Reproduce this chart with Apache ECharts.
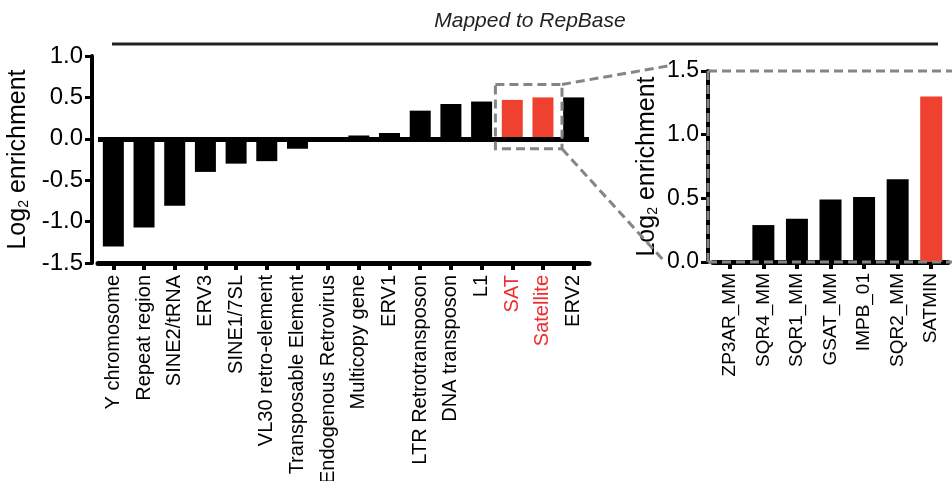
<!DOCTYPE html>
<html><head><meta charset="utf-8">
<script src="https://cdn.jsdelivr.net/npm/echarts@6/dist/echarts.min.js"></script>
<style>html,body{margin:0;padding:0;background:#fff}#c{width:952px;height:481px}</style>
</head><body><div id="c"></div>
<script>
// ---- data ----
const leftCategories = ['Y chromosome','Repeat region','SINE2/tRNA','ERV3','SINE1/7SL','VL30 retro-element','Transposable Element','Endogenous Retrovirus','Multicopy gene','ERV1','LTR Retrotransposon','DNA transposon','L1','SAT','Satellite','ERV2'];
const leftValues = [-1.30,-1.07,-0.81,-0.40,-0.30,-0.27,-0.12,0.0,0.04,0.07,0.34,0.42,0.45,0.47,0.50,0.50];
const leftHighlight = ['SAT','Satellite'];
const rightCategories = ['ZP3AR_MM','SQR4_MM','SQR1_MM','GSAT_MM','IMPB_01','SQR2_MM','SATMIN'];
const rightValues = [0.0,0.29,0.34,0.49,0.51,0.65,1.30];
const rightHighlight = ['SATMIN'];
const leftYRange = {min:-1.5, max:1.0, interval:0.5};
const rightYRange = {min:0, max:1.5, interval:0.5};
const titleText = 'Mapped to RepBase';

// ---- layout / style ----
const FONT = '"Liberation Sans", Arial, Helvetica, sans-serif';
const RED_BAR = '#ef4130', RED_TXT = '#ef2b2d', DASH = '#858585';
const GL = {left:98, top:56, width:491, height:207};
const GR = {left:713, top:71, width:235, height:191};
const YOFF_L = 6, YOFF_R = 5;

function bars(cats, vals, hl){
  return vals.map((v,i)=>({value:v, itemStyle:{color: hl.includes(cats[i]) ? RED_BAR : '#000'}}));
}
const yName = 'Log{s|2} enrichment';
function yAxisCfg(grid, range, off, fs, gap){
  return {
    type:'value', gridIndex:grid, min:range.min, max:range.max, interval:range.interval, offset:off,
    splitLine:{show:false},
    axisLine:{show:true, lineStyle:{color:'#000', width:4}},
    axisTick:{show:true, length:7, lineStyle:{color:'#000', width:3}},
    axisLabel:{fontSize:fs, color:'#000', fontFamily:FONT, margin:9, formatter:v=>v.toFixed(1)},
    name:yName, nameLocation:'middle', nameGap:gap, nameRotate:90,
    nameTextStyle:{fontSize:25, color:'#000', fontFamily:FONT,
      rich:{s:{fontSize:14, fontFamily:FONT, color:'#000', padding:[12,0,0,0]}}}
  };
}
function xAxisCfg(grid, cats, red, fs, margin){
  return {
    type:'category', gridIndex:grid, data:cats,
    axisLine:{show:true, onZero:false, lineStyle:{color:'#000', width:5}},
    axisTick:{show:true, alignWithLabel:true, length:7, lineStyle:{color:'#000', width:4}},
    axisLabel:{rotate:90, interval:0, margin:margin, fontSize:fs, fontFamily:FONT,
      color:(val)=> red.includes(val) ? RED_TXT : '#000'}
  };
}

const chart = echarts.init(document.getElementById('c'));
chart.setOption({
  animation:false,
  backgroundColor:'#fff',
  grid:[
    {left:GL.left, top:GL.top, width:GL.width, height:GL.height, containLabel:false, outerBoundsMode:'none'},
    {left:GR.left, top:GR.top, width:GR.width, height:GR.height, containLabel:false, outerBoundsMode:'none'}
  ],
  xAxis:[ xAxisCfg(0, leftCategories, leftHighlight, 20, 12), xAxisCfg(1, rightCategories, [], 19, 11) ],
  yAxis:[ yAxisCfg(0, leftYRange, YOFF_L, 24, 50), yAxisCfg(1, rightYRange, YOFF_R, 23, 48) ],
  series:[
    {type:'bar', xAxisIndex:0, yAxisIndex:0, barWidth:21, data:bars(leftCategories,leftValues,leftHighlight),
      markLine:{silent:true, symbol:'none', label:{show:false}, lineStyle:{color:'#000', width:5, type:'solid'}, data:[{yAxis:0}]}},
    {type:'bar', xAxisIndex:1, yAxisIndex:1, barWidth:22, data:bars(rightCategories,rightValues,rightHighlight)}
  ]
});

// annotations derived from the axes
const pL = (x,y)=>chart.convertToPixel({xAxisIndex:0, yAxisIndex:0}, [x,y]);
const i1 = leftCategories.indexOf(leftHighlight[0]), i2 = leftCategories.indexOf(leftHighlight[1]);
const bw = GL.width/leftCategories.length;
const z1 = pL(i1, 0), z2 = pL(i2, Math.max(leftValues[i1], leftValues[i2]));
const bx0 = z1[0] - bw*0.55, bx1 = z2[0] + bw*0.62, by0 = z2[1] - 13, by1 = z1[1] + 10;
const rAx = GR.left - YOFF_R, rTop = GR.top, rBot = GR.top + GR.height;
const dash = {stroke:DASH, lineWidth:3, lineDash:[9,5], fill:null};
chart.setOption({
  graphic:[
    {type:'text', style:{x:530, y:21, text:titleText, font:'italic 21px '+FONT, fill:'#222', align:'center', verticalAlign:'middle'}, z:10},
    {type:'line', shape:{x1:112, y1:44, x2:938, y2:44}, style:{stroke:'#222', lineWidth:3}, z:10},
    {type:'rect', shape:{x:bx0, y:by0, width:bx1-bx0, height:by1-by0}, style:dash, z:10},
    {type:'line', shape:{x1:bx1, y1:by0, x2:rAx-40, y2:rTop-5}, style:dash, z:10},
    {type:'line', shape:{x1:bx1, y1:by1, x2:rAx-43, y2:rBot}, style:dash, z:10},
    {type:'line', shape:{x1:rAx, y1:rTop, x2:952, y2:rTop}, style:dash, z:10},
    {type:'line', shape:{x1:rAx, y1:rTop, x2:rAx, y2:rBot}, style:dash, z:10},
    {type:'line', shape:{x1:rAx, y1:rBot, x2:952, y2:rBot}, style:dash, z:10}
  ]
});
</script></body></html>
